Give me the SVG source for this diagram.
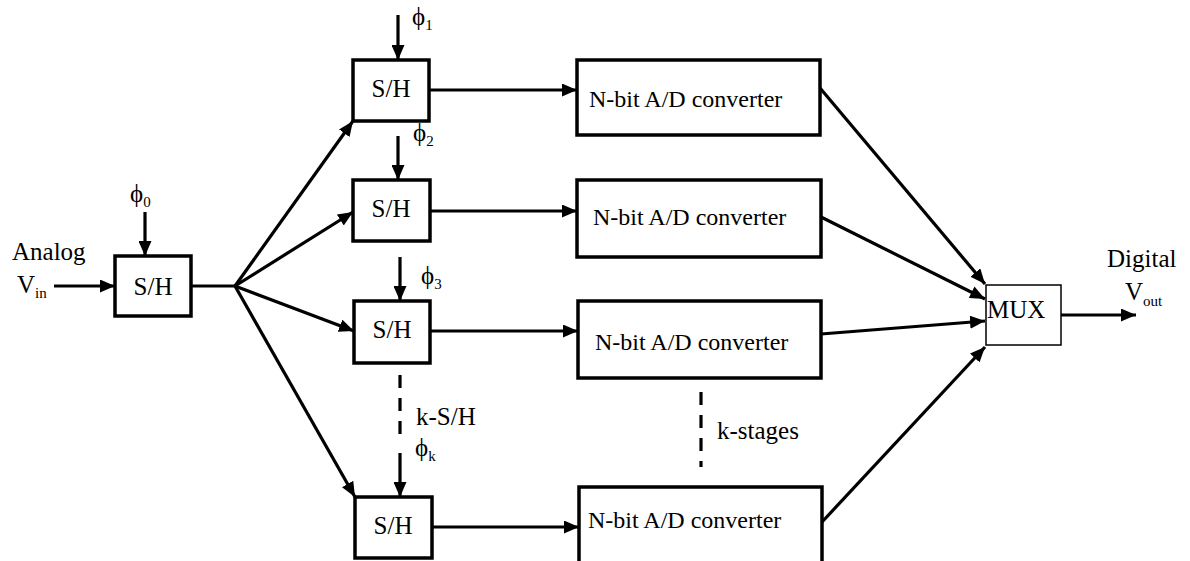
<svg xmlns="http://www.w3.org/2000/svg" width="1190" height="561" viewBox="0 0 1190 561">
<style>
.box{fill:#fff;stroke:#000;stroke-width:3.5}
.mux{fill:#fff;stroke:#000;stroke-width:1.5}
.t{font-size:25px;fill:#000}
.a{font-size:24px;fill:#000}
.sub{font-size:15px}
.c{fill:none;stroke:#000;stroke-width:3.2}
.d{fill:none;stroke:#000;stroke-width:3.2;stroke-dasharray:13 10}
</style>
<defs>
<marker id="ah" markerUnits="userSpaceOnUse" markerWidth="15" markerHeight="13" refX="15" refY="6.5" orient="auto">
<path d="M0,0 L15,6.5 L0,13 z" fill="#000"/>
</marker>
</defs>
<g id="connectors">
<line class="c" x1="54" y1="286" x2="115" y2="286" marker-end="url(#ah)"/>
<line class="c" x1="145" y1="212" x2="145" y2="256" marker-end="url(#ah)"/>
<polyline class="c" points="191,286 235,286"/>
<line class="c" x1="235" y1="286" x2="353" y2="121" marker-end="url(#ah)"/>
<line class="c" x1="235" y1="286" x2="353" y2="212" marker-end="url(#ah)"/>
<line class="c" x1="235" y1="286" x2="354" y2="331" marker-end="url(#ah)"/>
<line class="c" x1="235" y1="286" x2="355" y2="497" marker-end="url(#ah)"/>
<line class="c" x1="398" y1="15" x2="398" y2="60" marker-end="url(#ah)"/>
<line class="c" x1="398" y1="136" x2="398" y2="180" marker-end="url(#ah)"/>
<line class="c" x1="400" y1="257" x2="400" y2="301" marker-end="url(#ah)"/>
<line class="d" x1="400" y1="375" x2="400" y2="437"/>
<line class="c" x1="400" y1="453" x2="400" y2="497" marker-end="url(#ah)"/>
<line class="c" x1="429" y1="90" x2="577" y2="90" marker-end="url(#ah)"/>
<line class="c" x1="430" y1="211" x2="577" y2="211" marker-end="url(#ah)"/>
<line class="c" x1="430" y1="331" x2="578" y2="331" marker-end="url(#ah)"/>
<line class="c" x1="432" y1="527" x2="579" y2="527" marker-end="url(#ah)"/>
<line class="d" x1="701" y1="392" x2="701" y2="467"/>
<line class="c" x1="820" y1="88" x2="985" y2="284" marker-end="url(#ah)"/>
<line class="c" x1="821" y1="217" x2="985" y2="299" marker-end="url(#ah)"/>
<line class="c" x1="821" y1="334" x2="985" y2="321" marker-end="url(#ah)"/>
<line class="c" x1="822" y1="522" x2="985" y2="347" marker-end="url(#ah)"/>
<line class="c" x1="1061" y1="315" x2="1136" y2="315" marker-end="url(#ah)"/>
</g>
<g font-family="'Liberation Serif', 'Times New Roman', 'DejaVu Serif', serif">
<g id="labels">
<text class="t" x="12" y="260">Analog</text>
<text class="t" x="17" y="293">V<tspan class="sub" dy="5">in</tspan></text>
<text class="t" x="1107" y="267">Digital</text>
<text class="t" x="1125" y="300">V<tspan class="sub" dy="6">out</tspan></text>
<text class="t" x="130" y="202">ϕ<tspan class="sub" dy="5">0</tspan></text>
<text class="t" x="412" y="25">ϕ<tspan class="sub" dy="5">1</tspan></text>
<text class="t" x="413" y="141">ϕ<tspan class="sub" dy="5">2</tspan></text>
<text class="t" x="421" y="284">ϕ<tspan class="sub" dy="5">3</tspan></text>
<text class="t" x="416" y="425">k-S/H</text>
<text class="t" x="415" y="456">ϕ<tspan class="sub" dy="5">k</tspan></text>
<text class="t" x="717" y="439">k-stages</text>
</g>
<g id="sh0"><rect class="box" x="115" y="256" width="76" height="60"/><text class="t" x="153" y="295" text-anchor="middle">S/H</text></g>
<g id="sh1"><rect class="box" x="353" y="60" width="76" height="61"/><text class="t" x="391" y="97" text-anchor="middle">S/H</text></g>
<g id="sh2"><rect class="box" x="353" y="180" width="77" height="61"/><text class="t" x="391" y="217" text-anchor="middle">S/H</text></g>
<g id="sh3"><rect class="box" x="354" y="301" width="76" height="62"/><text class="t" x="392" y="338" text-anchor="middle">S/H</text></g>
<g id="sh4"><rect class="box" x="355" y="497" width="77" height="61"/><text class="t" x="393" y="534" text-anchor="middle">S/H</text></g>
<g id="adc1"><rect class="box" x="577" y="60" width="243" height="75"/><text class="a" x="589" y="107">N-bit A/D converter</text></g>
<g id="adc2"><rect class="box" x="577" y="180" width="244" height="77"/><text class="a" x="593" y="225">N-bit A/D converter</text></g>
<g id="adc3"><rect class="box" x="578" y="301" width="243" height="77"/><text class="a" x="595" y="350">N-bit A/D converter</text></g>
<g id="adc4"><rect class="box" x="579" y="487" width="243" height="90"/><text class="a" x="588" y="528">N-bit A/D converter</text></g>
<g id="mux"><rect class="mux" x="986" y="285" width="75" height="60"/><text class="t" x="987" y="318">MUX</text></g>
</g>
</svg>
